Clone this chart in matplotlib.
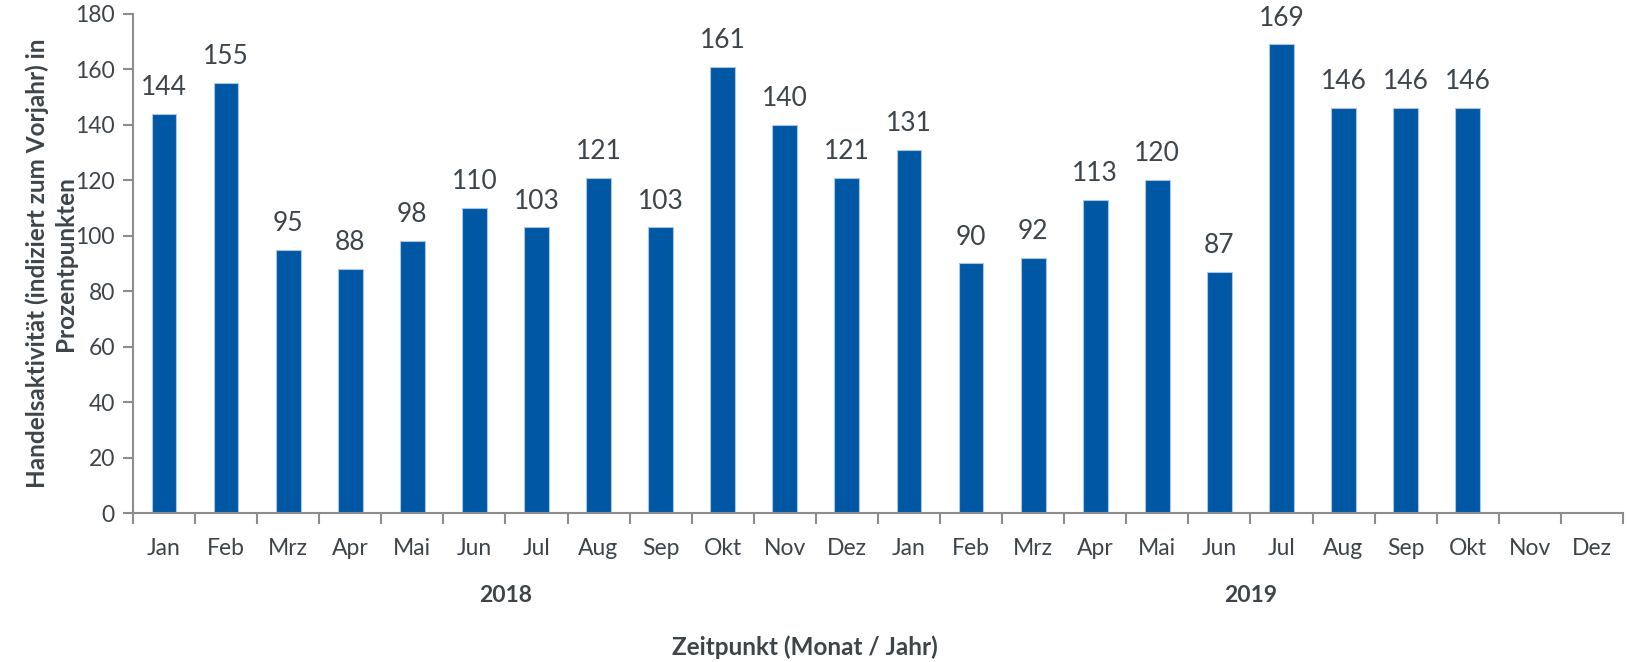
import numpy as np
import matplotlib.pyplot as plt
from matplotlib.transforms import blended_transform_factory

months = ["Jan", "Feb", "Mrz", "Apr", "Mai", "Jun", "Jul", "Aug", "Sep", "Okt", "Nov", "Dez",
          "Jan", "Feb", "Mrz", "Apr", "Mai", "Jun", "Jul", "Aug", "Sep", "Okt", "Nov", "Dez"]
values = [144, 155, 95, 88, 98, 110, 103, 121, 103, 161, 140, 121,
          131, 90, 92, 113, 120, 87, 169, 146, 146, 146, None, None]
years = ["2018", "2019"]

plt.rcParams['font.family'] = ['Lato', 'DejaVu Sans']
txt = '#3d454b'
blue = '#0057a3'
grey = '#8c8c8c'

fig = plt.figure(figsize=(16.27, 6.62), dpi=100)
ax = fig.add_axes([0.0817, 0.225, 0.9158, 0.754])

x = np.arange(len(months))
for i, v in enumerate(values):
    if v is None:
        continue
    ax.bar(x[i], v, width=0.4, color=blue, edgecolor='#a9c6e6', linewidth=0.8)
    ax.text(x[i], v + 5, str(v), ha='center', va='bottom', fontsize=19, color=txt)

ax.set_xlim(-0.5, len(months) - 0.5)
ax.set_ylim(0, 180)
ax.set_yticks(np.arange(0, 181, 20))
ax.set_xticks(x)
ax.set_xticklabels(months)
ax.set_xticks(np.arange(-0.5, len(months), 1), minor=True)
ax.tick_params(axis='x', which='major', length=0, pad=18, labelsize=16.5, labelcolor=txt)
ax.tick_params(axis='x', which='minor', length=8, width=1.5, color=grey)
ax.tick_params(axis='y', length=7, width=1.5, color=grey, labelsize=16.5, labelcolor=txt, pad=6)

for s in ['top', 'right']:
    ax.spines[s].set_visible(False)
for s in ['left', 'bottom']:
    ax.spines[s].set_color(grey)
    ax.spines[s].set_linewidth(1.5)

trans = blended_transform_factory(ax.transData, ax.transAxes)
ax.text(5.5, -0.165, years[0], transform=trans, ha='center', va='center',
        fontsize=16.5, fontweight='bold', color=txt)
ax.text(17.5, -0.165, years[1], transform=trans, ha='center', va='center',
        fontsize=16.5, fontweight='bold', color=txt)

ax.set_ylabel("Handelsaktivität (indiziert zum Vorjahr) in\nProzentpunkten", fontsize=17.5,
              fontweight='bold', color=txt, labelpad=-1, linespacing=1.25)
fig.text(0.495, 0.023, "Zeitpunkt (Monat / Jahr)", ha='center', va='center',
         fontsize=17.5, fontweight='bold', color=txt)

fig.savefig("out.png", dpi=100)
